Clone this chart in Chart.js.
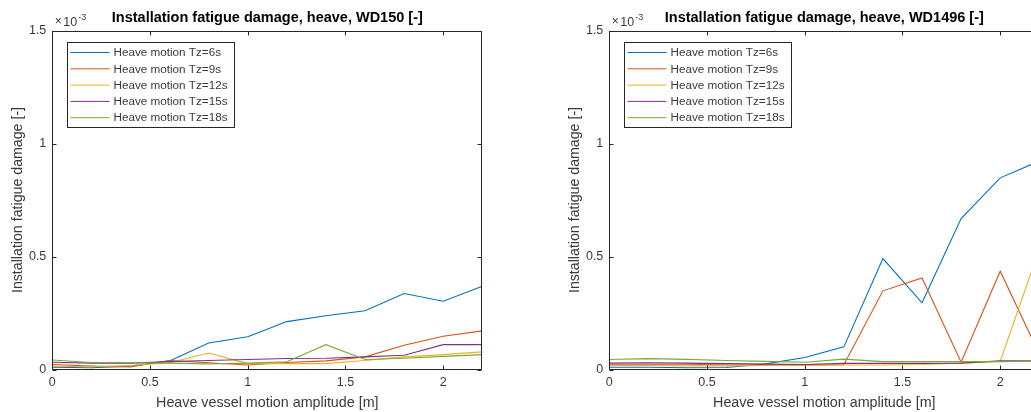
<!DOCTYPE html>
<html>
<head>
<meta charset="utf-8">
<script src="https://cdn.jsdelivr.net/npm/chart.js@4/dist/chart.umd.min.js"></script>
<style>
  html, body { margin: 0; padding: 0; background: #fff; overflow: hidden; width: 1031px; height: 412px; }
  .wrap { position: absolute; top: 0; width: 520px; height: 412px; }
  #w1 { left: 0px; }
  #w2 { left: 557px; }
</style>
</head>
<body>
<div class="wrap" id="w1"><canvas id="c1" width="520" height="412"></canvas></div>
<div class="wrap" id="w2"><canvas id="c2" width="520" height="412"></canvas></div>
<script>
// ---- data (values in units of 1e-3) ----
const amplitude = [0, 0.2, 0.4, 0.6, 0.8, 1.0, 1.2, 1.4, 1.6, 1.8, 2.0, 2.2];
const seriesLabels = ['Heave motion Tz=6s', 'Heave motion Tz=9s', 'Heave motion Tz=12s', 'Heave motion Tz=15s', 'Heave motion Tz=18s'];

const wd150_tz6  = [0.010, 0.008, 0.015, 0.038, 0.117, 0.145, 0.212, 0.238, 0.260, 0.336, 0.302, 0.368];
const wd150_tz9  = [0.022, 0.015, 0.011, 0.040, 0.030, 0.020, 0.031, 0.038, 0.056, 0.107, 0.147, 0.171];
const wd150_tz12 = [0.015, 0.012, 0.018, 0.030, 0.073, 0.026, 0.026, 0.026, 0.040, 0.056, 0.066, 0.078];
const wd150_tz15 = [0.032, 0.028, 0.028, 0.035, 0.040, 0.044, 0.049, 0.050, 0.056, 0.063, 0.110, 0.110];
const wd150_tz18 = [0.042, 0.031, 0.030, 0.028, 0.025, 0.028, 0.034, 0.110, 0.044, 0.050, 0.058, 0.066];

const wd1496_tz6  = [0.010, 0.010, 0.008, 0.009, 0.025, 0.053, 0.100, 0.491, 0.295, 0.668, 0.848, 0.922];
const wd1496_tz9  = [0.023, 0.023, 0.023, 0.020, 0.020, 0.020, 0.021, 0.348, 0.405, 0.032, 0.435, 0.069];
const wd1496_tz12 = [0.018, 0.018, 0.016, 0.016, 0.018, 0.018, 0.020, 0.020, 0.022, 0.028, 0.036, 0.533];
const wd1496_tz15 = [0.028, 0.030, 0.028, 0.026, 0.024, 0.022, 0.027, 0.027, 0.027, 0.028, 0.038, 0.038];
const wd1496_tz18 = [0.044, 0.048, 0.045, 0.040, 0.036, 0.032, 0.046, 0.035, 0.035, 0.035, 0.035, 0.038];

const xTickValues = [0, 0.5, 1, 1.5, 2];
const yTickValues = [0, 0.5, 1, 1.5];
const titles = ['Installation fatigue damage, heave, WD150 [-]', 'Installation fatigue damage, heave, WD1496 [-]'];
const xTitle = 'Heave vessel motion amplitude [m]';
const yTitle = 'Installation fatigue damage [-]';
const exponentText = ['\u00D7', '10', '-3'];

const colors = ['#0072BD', '#D95319', '#EDB120', '#7E2F8E', '#77AC30'];
const FONT = '"Liberation Sans", Arial, Helvetica, sans-serif';
const AXC = '#262626';
const TXC = '#3a3a3a';

const matlabPlugin = {
  id: 'matlab',
  afterDraw(chart, args, opts) {
    const ctx = chart.ctx;
    const a = chart.chartArea;
    const xs = chart.scales.x, ys = chart.scales.y;
    ctx.save();
    ctx.strokeStyle = AXC;
    ctx.lineWidth = 1;
    const L = Math.round(a.left) + 0.5, R = Math.round(a.right) - 0.5;
    const T = Math.round(a.top) + 0.5, B = Math.round(a.bottom) - 0.5;
    ctx.beginPath();
    ctx.rect(L, T, R - L, B - T);
    ctx.stroke();
    const tl = 4;
    ctx.beginPath();
    xs.ticks.forEach(t => {
      const px = Math.round(xs.getPixelForValue(t.value)) + 0.5;
      ctx.moveTo(px, B); ctx.lineTo(px, B - tl);
      ctx.moveTo(px, T); ctx.lineTo(px, T + tl);
    });
    ys.ticks.forEach(t => {
      const py = Math.round(ys.getPixelForValue(t.value)) + 0.5;
      ctx.moveTo(L, py); ctx.lineTo(L + tl, py);
      ctx.moveTo(R, py); ctx.lineTo(R - tl, py);
    });
    ctx.stroke();

    // title
    ctx.fillStyle = '#000';
    ctx.font = 'bold 14.5px ' + FONT;
    ctx.textAlign = 'center';
    ctx.textBaseline = 'middle';
    ctx.fillText(opts.title, (a.left + a.right) / 2, 18);

    // exponent
    ctx.fillStyle = TXC;
    ctx.textAlign = 'left';
    ctx.textBaseline = 'alphabetic';
    ctx.font = '12px ' + FONT;
    const ex = a.left + 2.5;
    ctx.fillText(exponentText[0], ex, 25);
    ctx.font = '12.5px ' + FONT;
    ctx.fillText(exponentText[1], ex + 8.5, 25.5);
    ctx.font = '9px ' + FONT;
    ctx.fillText(exponentText[2], ex + 23.5, 19.5);

    // legend
    const lx = Math.round(a.left + 14.5) + 0.5, ly = Math.round(a.top + 11.5) + 0.5;
    const lw = 167, lh = 85;
    ctx.fillStyle = '#fff';
    ctx.fillRect(lx, ly, lw, lh);
    ctx.strokeStyle = AXC;
    ctx.strokeRect(lx, ly, lw, lh);
    ctx.font = '11.7px ' + FONT;
    ctx.textBaseline = 'middle';
    chart.data.datasets.forEach((ds, i) => {
      const yy = ly + 10 + i * 16.3;
      ctx.strokeStyle = ds.borderColor;
      ctx.lineWidth = 1;
      ctx.beginPath();
      ctx.moveTo(lx + 3, yy); ctx.lineTo(lx + 42, yy);
      ctx.stroke();
      ctx.fillStyle = TXC;
      ctx.fillText(ds.label, lx + 46, yy + 0.5);
    });
    ctx.restore();
  }
};

function makeChart(id, title, series) {
  const datasets = series.map((vals, i) => ({
    label: seriesLabels[i],
    data: amplitude.map((x, k) => ({ x: x, y: vals[k] })),
    borderColor: colors[i],
    backgroundColor: colors[i],
    borderWidth: 1.1,
    pointRadius: 0,
    tension: 0,
    fill: false,
    order: series.length - 1 - i
  }));
  return new Chart(document.getElementById(id), {
    type: 'line',
    data: { datasets },
    options: {
      responsive: false,
      animation: false,
      events: [],
      layout: { padding: { left: 0, top: 30.5, right: 37.7, bottom: 0 } },
      plugins: {
        legend: { display: false },
        tooltip: { enabled: false },
        title: { display: false },
        matlab: { title: title }
      },
      scales: {
        x: {
          type: 'linear',
          min: 0, max: 2.2,
          afterBuildTicks: s => { s.ticks = xTickValues.map(v => ({ value: v })); },
          afterFit: s => { s.height = 42.5; },
          grid: { display: false, drawTicks: false },
          border: { display: false },
          ticks: { color: TXC, font: { family: FONT, size: 12.5 }, padding: 6, maxRotation: 0,
                   callback: v => String(v) },
          title: { display: true, text: xTitle, color: TXC, font: { family: FONT, size: 14.3 },
                   padding: { top: 0, bottom: 0 } }
        },
        y: {
          type: 'linear',
          min: 0, max: 1.5,
          afterBuildTicks: s => { s.ticks = yTickValues.map(v => ({ value: v })); },
          afterFit: s => { s.width = 52.3; },
          grid: { display: false, drawTicks: false },
          border: { display: false },
          ticks: { color: TXC, font: { family: FONT, size: 12.5 }, padding: 6,
                   callback: v => String(v) },
          title: { display: true, text: yTitle, color: TXC, font: { family: FONT, size: 14.2 },
                   padding: { top: 9.5, bottom: 0 } }
        }
      }
    },
    plugins: [matlabPlugin]
  });
}

makeChart('c1', titles[0], [wd150_tz6, wd150_tz9, wd150_tz12, wd150_tz15, wd150_tz18]);
makeChart('c2', titles[1], [wd1496_tz6, wd1496_tz9, wd1496_tz12, wd1496_tz15, wd1496_tz18]);
</script>
</body>
</html>
